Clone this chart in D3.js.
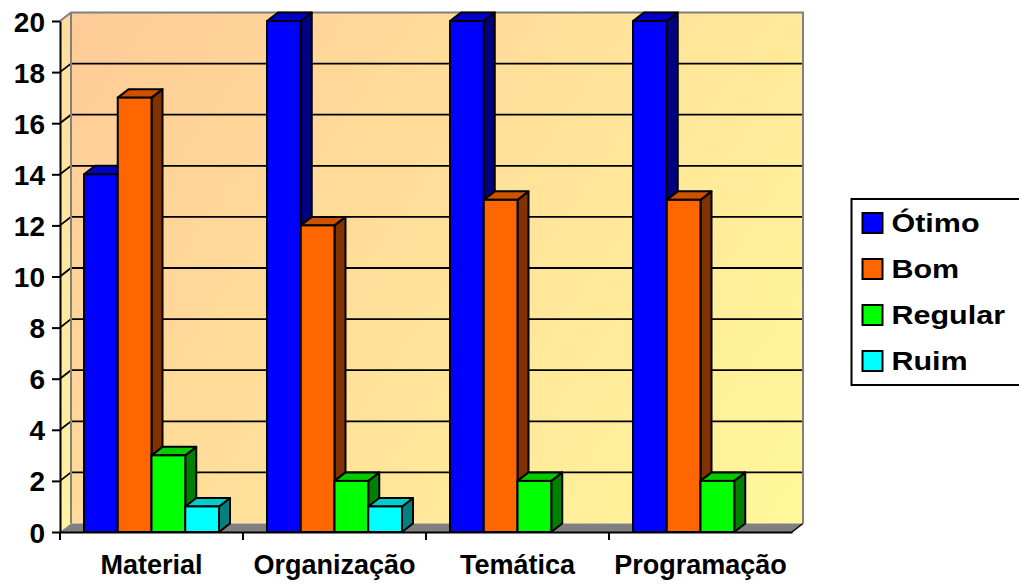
<!DOCTYPE html>
<html>
<head>
<meta charset="utf-8">
<script src="https://cdn.jsdelivr.net/npm/d3@7"></script>
<style>
    body { margin: 0; background: #ffffff; }
    text { font-family: Arial, "Liberation Sans", sans-serif; font-weight: bold; fill: #000; }
</style>
</head>
<body>
<div id="chart"></div>
<script>

// values
const categories = ["Material", "Organização", "Temática", "Programação"];
const seriesNames = ["Ótimo", "Bom", "Regular", "Ruim"];
const otimo = [14, 20, 20, 20];
const bom = [17, 12, 13, 13];
const regular = [3, 2, 2, 2];
const ruim = [1, 1, 0, 0];
const yTicks = [0, 2, 4, 6, 8, 10, 12, 14, 16, 18, 20];

// front / top / side colour of each series
const frontColors = ["#0000ff", "#ff6600", "#00ff00", "#00ffff"];
const topColors = ["#0000cc", "#cc5200", "#00cc00", "#00cccc"];
const sideColors = ["#000080", "#803300", "#008000", "#008080"];

class Bar3DChart {

    constructor (){
        this.width = 1019;
        this.height = 587;
        this.left = 60;
        this.right = 792;
        this.top = 21;
        this.bottom = 532;
        // depth offset of the 3d box
        this.dx = 11;
        this.dy = 8.5;

        this.svg = d3.select("#chart").append("svg")
                     .attr("width", this.width)
                     .attr("height", this.height);
    };

    update (){

        let that = this;
        let dx = this.dx, dy = this.dy;

        let allSeries = [otimo, bom, regular, ruim];

        let yScale = d3.scaleLinear()
                       .domain([0, 20])
                       .range([this.bottom, this.top]);

        let xScale = d3.scaleBand()
                       .domain(categories)
                       .range([this.left, this.right]);

        let inner = d3.scaleBand()
                      .domain(seriesNames)
                      .range([24, xScale.bandwidth() - 24]);

        let defs = this.svg.append("defs");
        let wallGrad = defs.append("linearGradient")
                           .attr("id", "wallGrad")
                           .attr("gradientUnits", "userSpaceOnUse")
                           .attr("x1", this.left + dx).attr("y1", this.top - dy)
                           .attr("x2", this.right + dx).attr("y2", this.bottom - dy);
        wallGrad.append("stop").attr("offset", "0%").attr("stop-color", "#ffcb98");
        wallGrad.append("stop").attr("offset", "100%").attr("stop-color", "#fff89a");

        let sideGrad = defs.append("linearGradient")
                           .attr("id", "sideGrad")
                           .attr("x1", 0).attr("y1", 0).attr("x2", 0).attr("y2", 1);
        sideGrad.append("stop").attr("offset", "0%").attr("stop-color", "#ffdda0");
        sideGrad.append("stop").attr("offset", "100%").attr("stop-color", "#fff3a0");

        let x0 = this.left, x1 = this.right, yT = yScale(20), yB = yScale(0);

        // back wall
        this.svg.append("rect")
                .attr("x", x0 + dx)
                .attr("y", yT - dy)
                .attr("width", x1 - x0)
                .attr("height", yB - yT)
                .attr("fill", "url(#wallGrad)");

        // left wall
        this.svg.append("path")
                .attr("d", "M" + x0 + "," + yT + "L" + (x0 + dx) + "," + (yT - dy) +
                           "L" + (x0 + dx) + "," + (yB - dy) + "L" + x0 + "," + yB + "Z")
                .attr("fill", "url(#sideGrad)");

        // floor
        this.svg.append("path")
                .attr("d", "M" + x0 + "," + yB + "L" + (x0 + dx) + "," + (yB - dy) +
                           "L" + (x1 + dx) + "," + (yB - dy) + "L" + x1 + "," + yB + "Z")
                .attr("fill", "#808080");
        this.svg.append("line")
                .attr("x1", x1).attr("y1", yB)
                .attr("x2", x1 + dx).attr("y2", yB - dy)
                .attr("stroke", "#000").attr("stroke-width", 1.5);

        // grid lines on side and back wall
        let gridVals = yTicks.filter(function(d) { return d > 0 && d < 20; });
        this.svg.selectAll(".grid")
                .data(gridVals)
                .enter()
                .append("path")
                .attr("class", "grid")
                .attr("d", function(d) {
                    let y = yScale(d);
                    return "M" + x0 + "," + y + "L" + (x0 + dx) + "," + (y - dy) + "L" + (x1 + dx) + "," + (y - dy);
                })
                .attr("fill", "none")
                .attr("stroke", "#000")
                .attr("stroke-width", 1.8);

        // grey wall edges
        this.svg.append("path")
                .attr("d", "M" + x0 + "," + yT + "L" + (x0 + dx) + "," + (yT - dy) +
                           "L" + (x1 + dx) + "," + (yT - dy) + "L" + (x1 + dx) + "," + (yB - dy))
                .attr("fill", "none")
                .attr("stroke", "#808080")
                .attr("stroke-width", 2);
        this.svg.append("line")
                .attr("x1", x0 + dx).attr("y1", yT - dy)
                .attr("x2", x0 + dx).attr("y2", yB - dy)
                .attr("stroke", "#808080")
                .attr("stroke-width", 2);

        // bars, drawn left to right so the next bar hides the side of the previous
        let bars = [];
        categories.forEach(function(c, i) {
            seriesNames.forEach(function(s, j) {
                bars.push({cat: c, name: s, k: j, val: allSeries[j][i]});
            });
        });
        bars = bars.filter(function(d) { return d.val > 0; });

        let barGroups = this.svg.selectAll(".bar")
                                .data(bars)
                                .enter()
                                .append("g")
                                .attr("class", "bar");

        function bx(d) { return xScale(d.cat) + inner(d.name); }

        barGroups.append("path")
                 .attr("d", function(d) {
                     let x = bx(d) + inner.bandwidth(), yv = yScale(d.val);
                     return "M" + x + "," + yv + "L" + (x + dx) + "," + (yv - dy) +
                            "L" + (x + dx) + "," + (yB - dy) + "L" + x + "," + yB + "Z";
                 })
                 .attr("fill", function(d) { return sideColors[d.k]; })
                 .attr("stroke", "#000")
                 .attr("stroke-width", 2)
                 .attr("stroke-linejoin", "round");

        barGroups.append("path")
                 .attr("d", function(d) {
                     let x = bx(d), w = inner.bandwidth(), yv = yScale(d.val);
                     return "M" + x + "," + yv + "L" + (x + dx) + "," + (yv - dy) +
                            "L" + (x + w + dx) + "," + (yv - dy) + "L" + (x + w) + "," + yv + "Z";
                 })
                 .attr("fill", function(d) { return topColors[d.k]; })
                 .attr("stroke", "#000")
                 .attr("stroke-width", 2)
                 .attr("stroke-linejoin", "round");

        barGroups.append("rect")
                 .attr("x", bx)
                 .attr("y", function(d) { return yScale(d.val); })
                 .attr("width", inner.bandwidth())
                 .attr("height", function(d) { return yB - yScale(d.val); })
                 .attr("fill", function(d) { return frontColors[d.k]; })
                 .attr("stroke", "#000")
                 .attr("stroke-width", 2);

        // y axis
        let yAxis = d3.axisLeft(yScale)
                      .tickValues(yTicks)
                      .tickSize(8)
                      .tickSizeOuter(0)
                      .tickPadding(7);
        let yg = this.svg.append("g")
                         .attr("transform", "translate(" + x0 + ",0)")
                         .call(yAxis);
        yg.selectAll("path, line").attr("stroke", "#000").attr("stroke-width", 2);
        yg.selectAll("text")
          .attr("font-size", 28)
          .attr("font-family", "Arial, 'Liberation Sans', sans-serif")
          .attr("font-weight", "bold")
          .attr("dy", "0.36em");

        // x axis: labels at band centres, ticks at band edges
        let xAxis = d3.axisBottom(xScale)
                      .tickSize(0)
                      .tickSizeOuter(0)
                      .tickPadding(23);
        let xg = this.svg.append("g")
                         .attr("transform", "translate(0," + yB + ")")
                         .call(xAxis);
        xg.select(".domain").attr("stroke", "#000").attr("stroke-width", 2);
        xg.selectAll("text")
          .attr("font-size", 27)
          .attr("font-family", "Arial, 'Liberation Sans', sans-serif")
          .attr("font-weight", "bold");

        this.svg.selectAll(".xtick")
                .data(categories)
                .enter()
                .append("line")
                .attr("class", "xtick")
                .attr("x1", function(d) { return xScale(d); })
                .attr("x2", function(d) { return xScale(d); })
                .attr("y1", yB)
                .attr("y2", yB + 8)
                .attr("stroke", "#000")
                .attr("stroke-width", 2);

        // legend
        let legend = this.svg.append("g").attr("transform", "translate(851.5,199)");
        legend.append("rect")
              .attr("x", 0).attr("y", 0)
              .attr("width", 200).attr("height", 186)
              .attr("fill", "#fff")
              .attr("stroke", "#000")
              .attr("stroke-width", 2);

        let items = legend.selectAll(".item")
                          .data(seriesNames)
                          .enter()
                          .append("g")
                          .attr("class", "item")
                          .attr("transform", function(d, i) { return "translate(11," + (14 + i * 46) + ")"; });

        items.append("rect")
             .attr("width", 20).attr("height", 20)
             .attr("fill", function(d, i) { return frontColors[i]; })
             .attr("stroke", "#000")
             .attr("stroke-width", 2);

        let sx = 1.22;
        items.append("text")
             .attr("transform", "scale(" + sx + ",1)")
             .attr("x", 29 / sx)
             .attr("y", 19)
             .attr("font-size", 25)
             .text(function(d) { return d; });
    };
}

let chart = new Bar3DChart();
chart.update();

</script>
</body>
</html>
